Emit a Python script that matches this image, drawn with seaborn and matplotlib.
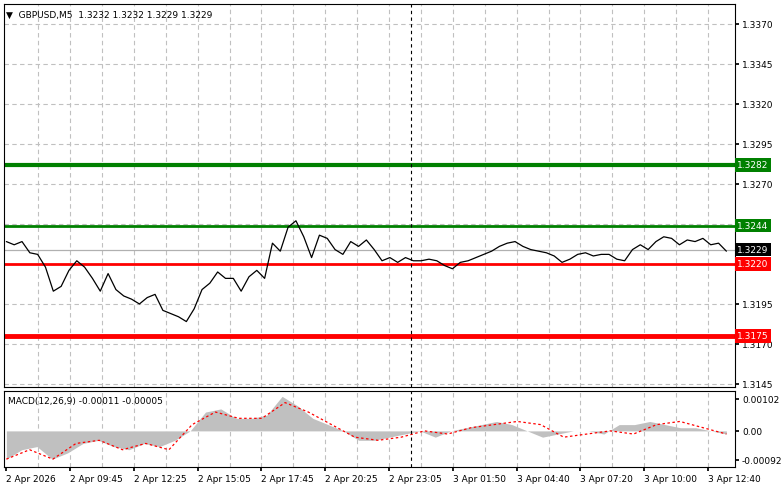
import numpy as np
import pandas as pd
import matplotlib
matplotlib.use("Agg")
import matplotlib.pyplot as plt
import seaborn as sns

# price closes (M5)
prices = [1.3234, 1.3232, 1.3234, 1.3227, 1.3226, 1.3218, 1.3203, 1.3206, 1.3216, 1.3222,
          1.3218, 1.3211, 1.3203, 1.3214, 1.3204, 1.3200, 1.3198, 1.3195, 1.3199, 1.3201,
          1.3191, 1.3189, 1.3187, 1.3184, 1.3192, 1.3204, 1.3208, 1.3215, 1.3211, 1.3211,
          1.3203, 1.3212, 1.3216, 1.3211, 1.3233, 1.3228, 1.3243, 1.3247, 1.3237, 1.3224,
          1.3238, 1.3236, 1.3229, 1.3226, 1.3234, 1.3231, 1.3235, 1.3229, 1.3222, 1.3224,
          1.3221, 1.3224, 1.3222, 1.3222, 1.3223, 1.3222, 1.3219, 1.3217, 1.3221, 1.3222,
          1.3224, 1.3226, 1.3228, 1.3231, 1.3233, 1.3234, 1.3231, 1.3229, 1.3228, 1.3227,
          1.3225, 1.3221, 1.3223, 1.3226, 1.3227, 1.3225, 1.3226, 1.3226, 1.3223, 1.3222,
          1.3229, 1.3232, 1.3229, 1.3234, 1.3237, 1.3236, 1.3232, 1.3235, 1.3234, 1.3236,
          1.3232, 1.3233, 1.3228]

macd_hist = [-0.0009, -0.0006, -0.0005, -0.0009, -0.0007, -0.0004, -0.0003, -0.0005, -0.0006, -0.0004,
             -0.0005, -0.0003, 0.0000, 0.0006, 0.0007, 0.0004, 0.0004, 0.0005, 0.0011, 0.0008,
             0.0004, 0.0002, 0.0000, -0.0003, -0.0003, -0.0002, -0.0001, 0.0000, -0.0002, 0.0000,
             0.0001, 0.0002, 0.0003, 0.0002, 0.0000, -0.0002, -0.0001, 0.0000, 0.0000, -0.0001,
             0.0002, 0.0002, 0.0003, 0.0002, 0.0001, 0.0001, 0.0000, -0.0001]
macd_signal = [-0.0009, -0.0006, -0.0009, -0.0004, -0.0003, -0.0006, -0.0004, -0.0006, 0.0002, 0.0006,
               0.0004, 0.0004, 0.0009, 0.0006, 0.0002, -0.0002, -0.0003, -0.0002, 0.0000, -0.0001,
               0.0001, 0.0002, 0.0003, 0.0002, -0.0002, -0.0001, 0.0000, -0.0001, 0.0002, 0.0003,
               0.0001, -0.0001]

time_labels = ["2 Apr 2026", "2 Apr 09:45", "2 Apr 12:25", "2 Apr 15:05", "2 Apr 17:45",
               "2 Apr 20:25", "2 Apr 23:05", "3 Apr 01:50", "3 Apr 04:40", "3 Apr 07:20",
               "3 Apr 10:00", "3 Apr 12:40"]
price_grid = [1.3145, 1.3170, 1.3195, 1.3220, 1.3245, 1.3270, 1.3295, 1.3320, 1.3345, 1.3370]
price_ticks = [1.3145, 1.3170, 1.3195, 1.3270, 1.3295, 1.3320, 1.3345, 1.3370]

levels = [(1.3282, "#008000", 3.0), (1.3244, "#008000", 2.0),
          (1.3220, "#ff0000", 2.0), (1.3175, "#ff0000", 3.5)]
last_price = 1.3229

sns.set_theme(style="white")
plt.rcParams["font.family"] = ["DejaVu Sans"]
fs = 6.5

fig = plt.figure(figsize=(7.81, 4.89), dpi=100)
ax = fig.add_axes([4/781, 1-388/489, 731/781, 383/489])
ax2 = fig.add_axes([4/781, 1-468/489, 731/781, 76/489])

n = len(prices)
xmax = n + 0.1
step = 8.15
xt = np.arange(len(time_labels)) * step
xgrid = np.arange(0, xmax, step / 2)
cursor_x = 51.7

df = pd.DataFrame({"i": np.arange(n), "price": prices})

for a in (ax, ax2):
    for g in xgrid[1:]:
        a.axvline(g, color="#c0c0c0", ls=(0, (4, 3)), lw=0.8, zorder=0)
    a.axvline(cursor_x, color="black", ls=(0, (3, 3)), lw=0.8, zorder=4)
    a.set_xlim(-0.3, xmax)
    a.yaxis.tick_right()
    for s in a.spines.values():
        s.set_color("black")
        s.set_linewidth(0.8)
    a.tick_params(axis="y", labelsize=fs, length=3, pad=2, direction="out", right=True, colors="black")

for p in price_grid:
    ax.axhline(p, color="#c0c0c0", ls=(0, (4, 3)), lw=0.8, zorder=0)

ax.axhline(last_price, color="#b0b0b0", lw=0.9, zorder=1)
for val, col, lw in levels:
    ax.axhline(val, color=col, lw=lw, zorder=2)

sns.lineplot(data=df, x="i", y="price", color="black", lw=0.9, ax=ax, zorder=3)
ax.set_ylim(1.31431, 1.33825)
ax.set_yticks(price_ticks)
ax.set_yticklabels([f"{p:.4f}" for p in price_ticks])
ax.set_xticks([])
ax.set_xlabel("")
ax.set_ylabel("")

for val, col, lw in levels + [(last_price, "black", 0)]:
    ax.text(1.003, val, f"{val:.4f}", transform=ax.get_yaxis_transform(), fontsize=fs,
            color="white", va="center", ha="left", zorder=5,
            bbox=dict(boxstyle="square,pad=0.25", fc=col, ec="none"))

ax.text(0.003, 0.985, "\u25bc  GBPUSD,M5  1.3232 1.3232 1.3229 1.3229", transform=ax.transAxes,
        fontsize=fs, va="top", ha="left", color="black")

# MACD panel
hx = np.linspace(0, n - 1, len(macd_hist))
sx = np.linspace(0, n - 1, len(macd_signal))
ax2.fill_between(hx, 0, macd_hist, color="#c0c0c0", lw=0, zorder=1)
ax2.plot(sx, macd_signal, color="red", ls=(0, (2, 2)), lw=0.9, zorder=3)
ax2.set_ylim(-0.00115, 0.00127)
ax2.set_yticks([-0.00092, 0.0, 0.00102])
ax2.set_yticklabels(["-0.00092", "0.00", "0.00102"])
ax2.set_xticks(xt)
ax2.set_xticklabels(time_labels, ha="left")
ax2.tick_params(axis="x", labelsize=fs, length=3, pad=2, bottom=True, direction="out", colors="black")
ax2.text(0.005, 0.93, "MACD(12,26,9) -0.00011 -0.00005", transform=ax2.transAxes,
         fontsize=fs, va="top", ha="left", color="black")

fig.savefig("out.png", dpi=100)
